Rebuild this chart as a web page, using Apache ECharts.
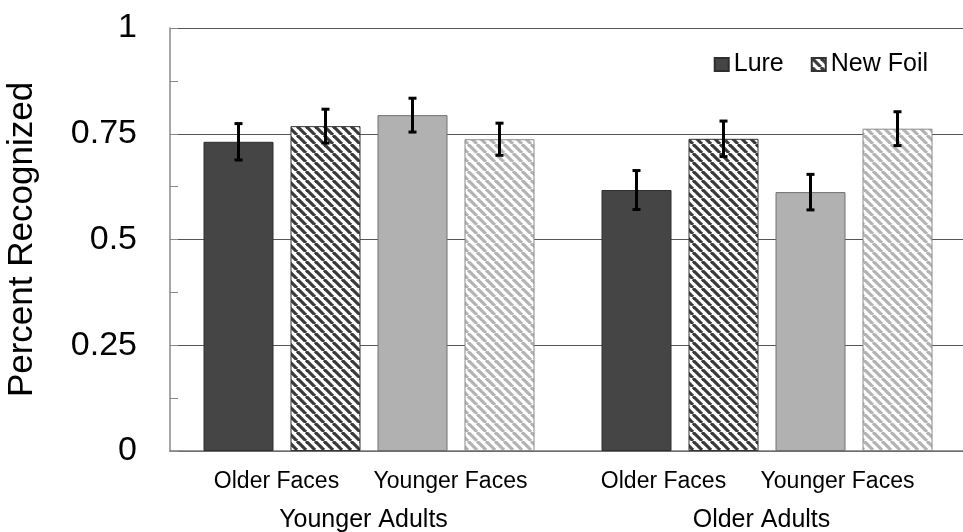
<!DOCTYPE html>
<html>
<head>
<meta charset="utf-8">
<title>Percent Recognized</title>
<script src="https://cdn.jsdelivr.net/npm/echarts@6/dist/echarts.min.js"></script>
<style>
  html, body { margin: 0; padding: 0; background: #fff; }
  #chart { width: 963px; height: 532px; }
</style>
</head>
<body>
<div id="chart"></div>
<script>
const groups = ['Younger Adults', 'Older Adults'];
const faces = ['Older Faces', 'Younger Faces'];
const olderLure = [0.731, 0.617];
const olderFoil = [0.768, 0.738];
const youngerLure = [0.794, 0.612];
const youngerFoil = [0.737, 0.762];
const olderLureErr = [0.043, 0.046];
const olderFoilErr = [0.040, 0.042];
const youngerLureErr = [0.040, 0.042];
const youngerFoilErr = [0.038, 0.040];
const yMin = 0, yMax = 1, yStep = 0.25;

(function(){
  const FONT = '"Liberation Sans", Arial, sans-serif';
  const BAR_W = 70, GAP = 17;
  const labelShift = [38, 27];

  function hatch(stroke){
    const s = 9;
    const c = document.createElement('canvas');
    c.width = s; c.height = s;
    const ctx = c.getContext('2d');
    ctx.fillStyle = '#fff';
    ctx.fillRect(0, 0, s, s);
    ctx.strokeStyle = stroke;
    ctx.lineWidth = 3.2;
    for(let k = -1; k <= 1; k++){
      ctx.beginPath();
      ctx.moveTo(k * s, 0);
      ctx.lineTo(k * s + s, s);
      ctx.stroke();
    }
    return { image: c, repeat: 'repeat' };
  }

  const bars = [
    { name: 'Lure', values: olderLure, errs: olderLureErr, color: '#454545', border: '#2e2e2e', face: faces[0] },
    { name: 'New Foil', values: olderFoil, errs: olderFoilErr, color: hatch('#3a3a3a'), border: '#333', face: null },
    { name: 'Lure', values: youngerLure, errs: youngerLureErr, color: '#b1b1b1', border: '#707070', face: faces[1] },
    { name: 'New Foil', values: youngerFoil, errs: youngerFoilErr, color: hatch('#b3b3b3'), border: '#8a8a8a', face: null }
  ];

  const series = bars.map((b)=>({
    type: 'bar',
    name: b.name,
    barWidth: BAR_W,
    barGap: (GAP / BAR_W * 100) + '%',
    itemStyle: { color: b.color, borderColor: b.border, borderWidth: 1 },
    data: b.values.map((v, i)=>({
      value: v,
      label: {
        show: !!b.face,
        position: 'bottom',
        distance: 19,
        offset: [labelShift[i], 0],
        formatter: b.face || '',
        fontFamily: FONT,
        fontSize: 23,
        color: '#000'
      }
    }))
  }));

  const errData = [];
  bars.forEach((b, slot)=>{
    b.values.forEach((v, i)=>{ errData.push([i, v, b.errs[i], slot]); });
  });

  series.push({
    type: 'custom',
    name: 'err',
    z: 5,
    data: errData,
    renderItem: function(params, api){
      const slot = api.value(3);
      const dx = (slot - 1.5) * (BAR_W + GAP);
      const top = api.coord([api.value(0), api.value(1) + api.value(2)]);
      const bot = api.coord([api.value(0), api.value(1) - api.value(2)]);
      const x = top[0] + dx;
      const st = { stroke: '#000', lineWidth: 3 };
      return {
        type: 'group',
        children: [
          { type: 'line', shape: { x1: x, y1: top[1], x2: x, y2: bot[1] }, style: st },
          { type: 'line', shape: { x1: x - 4, y1: top[1], x2: x + 4, y2: top[1] }, style: st },
          { type: 'line', shape: { x1: x - 4, y1: bot[1], x2: x + 4, y2: bot[1] }, style: st }
        ]
      };
    }
  });

  const chart = echarts.init(document.getElementById('chart'), null, { renderer: 'canvas' });
  chart.setOption({
    animation: false,
    backgroundColor: '#fff',
    grid: { left: 170, top: 28, width: 796, height: 423, containLabel: false, outerBoundsMode: 'none' },
    legend: {
      data: ['Lure', 'New Foil'],
      right: 30,
      top: 47,
      icon: 'rect',
      itemWidth: 14,
      itemHeight: 13,
      itemGap: 27,
      textStyle: { fontFamily: FONT, fontSize: 25, color: '#000' }
    },
    xAxis: {
      type: 'category',
      data: groups,
      axisLine: { lineStyle: { color: '#777', width: 1.5 } },
      axisTick: { show: false },
      axisLabel: { fontFamily: FONT, fontSize: 25, color: '#000', margin: 57, padding: [0, 11, 0, 0] }
    },
    yAxis: {
      type: 'value',
      min: yMin,
      max: yMax,
      interval: yStep,
      name: 'Percent Recognized',
      nameLocation: 'middle',
      nameGap: 130,
      nameTextStyle: { fontFamily: FONT, fontSize: 35, color: '#000' },
      axisLine: { show: true, lineStyle: { color: '#888', width: 1.5 } },
      axisTick: { show: true, inside: true, length: 8, lineStyle: { color: '#888' } },
      minorTick: { show: true, splitNumber: 2, length: 8, lineStyle: { color: '#888' } },
      splitLine: { lineStyle: { color: '#555', width: 1 } },
      axisLabel: { fontFamily: FONT, fontSize: 34, color: '#000', margin: 33 }
    },
    series: series
  });
  window.addEventListener('resize', ()=>chart.resize());
})();
</script>
</body>
</html>
